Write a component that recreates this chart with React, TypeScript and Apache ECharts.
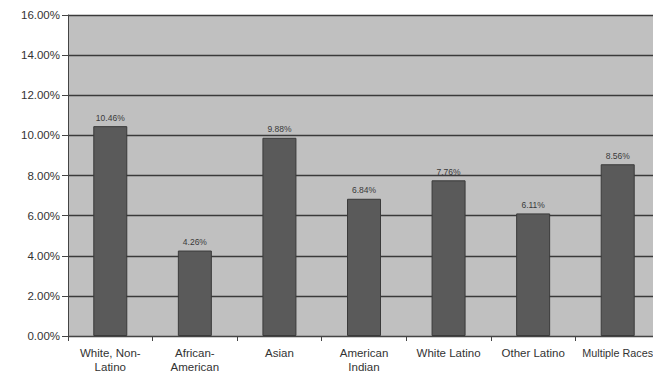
import React, { useEffect, useRef } from "react";
import * as echarts from "echarts";

const categories = [
  "White, Non-\nLatino",
  "African-\nAmerican",
  "Asian",
  "American\nIndian",
  "White Latino",
  "Other Latino",
  "Multiple Races",
];
const rates = [10.46, 4.26, 9.88, 6.84, 7.76, 6.11, 8.56];
const yMin = 0;
const yMax = 16;
const yStep = 2;

export default function App() {
  const ref = useRef<HTMLDivElement>(null);

  useEffect(() => {
    if (!ref.current) return;
    document.body.style.overflow = "hidden";
    const chart = echarts.init(ref.current, null, { renderer: "svg" });
    // the last category sits at the right edge, so its label is set a touch smaller to fit
    const categoryItems = categories.map((c, i) =>
      i === categories.length - 1 ? { value: c, textStyle: { fontSize: 10.8 } } : c
    );
    chart.setOption({
      animation: false,
      backgroundColor: "#ffffff",
      textStyle: { fontFamily: "Liberation Sans, Arial, sans-serif" },
      grid: {
        left: 68,
        right: 0,
        top: 15,
        bottom: 36,
        show: true,
        backgroundColor: "#c0c0c0",
        borderWidth: 0,
      },
      xAxis: {
        type: "category",
        data: categoryItems,
        axisLine: { show: true, lineStyle: { color: "#444", width: 1 } },
        axisTick: { show: true, length: 5, alignWithLabel: false, lineStyle: { color: "#444" } },
        axisLabel: {
          color: "#333",
          fontSize: 11.5,
          lineHeight: 14,
          margin: 10,
          interval: 0,
        },
      },
      yAxis: {
        type: "value",
        min: yMin,
        max: yMax,
        interval: yStep,
        axisLine: { show: true, lineStyle: { color: "#444", width: 1 } },
        axisTick: { show: true, length: 6, lineStyle: { color: "#444" } },
        axisLabel: {
          color: "#333",
          fontSize: 11.5,
          margin: 8,
          formatter: (v: number) => v.toFixed(2) + "%",
        },
        splitLine: { show: true, lineStyle: { color: "#3a3a3a", width: 1.4 } },
      },
      series: [
        {
          type: "bar",
          data: rates,
          barWidth: 34,
          itemStyle: { color: "#5a5a5a", borderColor: "#3a3a3a", borderWidth: 1 },
          label: {
            show: true,
            position: "top",
            distance: 4,
            color: "#3a3a3a",
            fontSize: 8.5,
            formatter: (p: any) => p.value.toFixed(2) + "%",
          },
        },
      ],
    });
    return () => chart.dispose();
  }, []);

  return (
    <div style={{ position: "absolute", left: 0, top: 0, width: 653, height: 374, overflow: "hidden" }}>
      <div ref={ref} style={{ width: 660, height: 374 }} />
    </div>
  );
}
